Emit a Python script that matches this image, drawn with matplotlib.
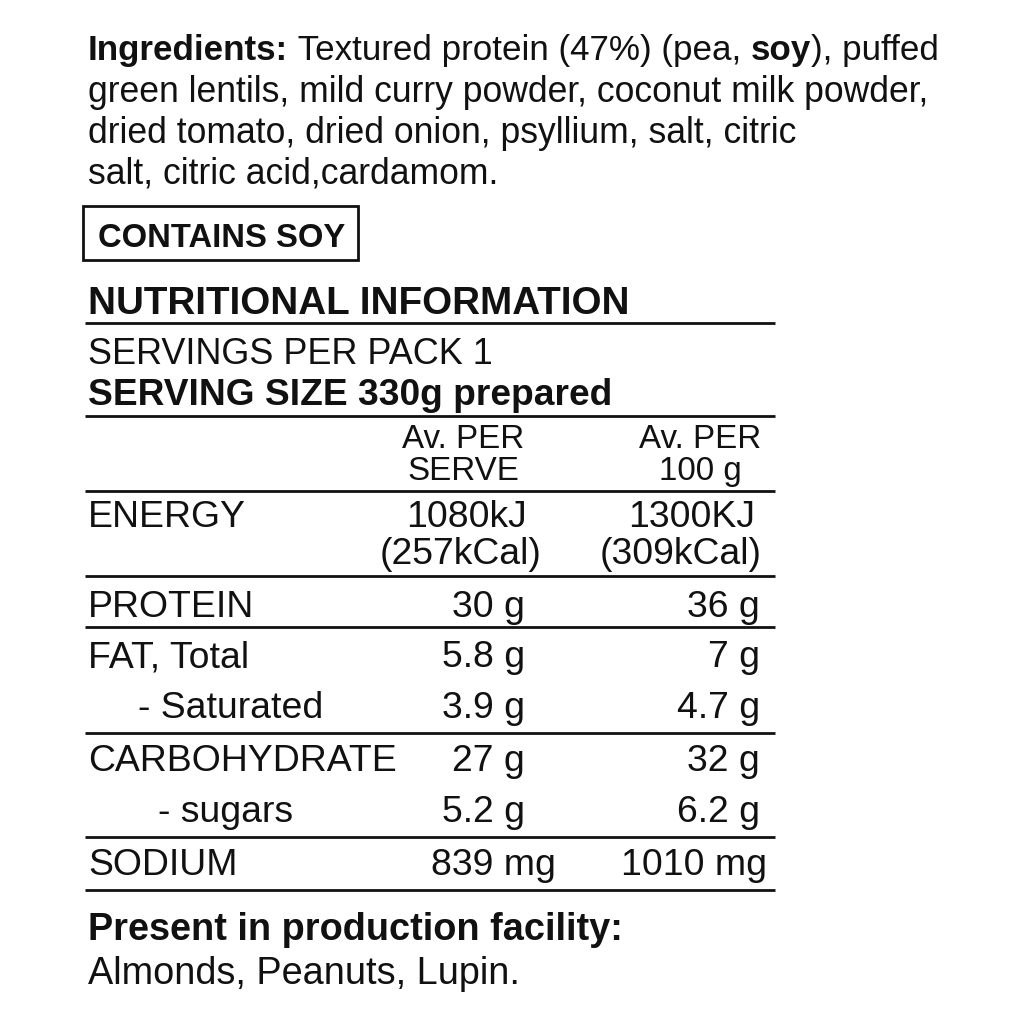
import matplotlib
matplotlib.use('Agg')
import matplotlib.pyplot as plt
from matplotlib import font_manager as fm
from matplotlib.patches import Rectangle

# ---------------- data ----------------
ingredient_lines = [
    [("Ingredients:", "bold"), (" Textured protein (47%) (pea, ", "normal"), ("soy", "bold"), ("), puffed", "normal")],
    [("green lentils, mild curry powder, coconut milk powder,", "normal")],
    [("dried tomato, dried onion, psyllium, salt, citric", "normal")],
    [("salt, citric acid,cardamom.", "normal")],
]
allergen_box = "CONTAINS SOY"
title = "NUTRITIONAL INFORMATION"
servings = "SERVINGS PER PACK 1"
serving_size = "SERVING SIZE 330g prepared"
col_headers = [["Av. PER", "SERVE"], ["Av. PER", "100 g"]]
energy_label = "ENERGY"
energy_serve = ["1080kJ", "(257kCal)"]
energy_100g = ["1300KJ", "(309kCal)"]
nutrients = ["PROTEIN", "FAT, Total", "- Saturated", "CARBOHYDRATE", "- sugars", "SODIUM"]
per_serve = ["30 g", "5.8 g", "3.9 g", "27 g", "5.2 g", "839 mg"]
per_100g = ["36 g", "7 g", "4.7 g", "32 g", "6.2 g", "1010 mg"]
facility_title = "Present in production facility:"
facility_items = "Almonds, Peanuts, Lupin."

# ---------------- layout ----------------
names = {f.name for f in fm.fontManager.ttflist}


def first_font(cands):
    for c in cands:
        if c in names:
            return c
    return "DejaVu Sans"


REG = first_font(["Liberation Sans", "Arimo", "DejaVu Sans"])
INK = "#111111"

fig = plt.figure(figsize=(10.24, 10.24), dpi=100, facecolor="white")
ax = fig.add_axes([0, 0, 1, 1])
ax.set_xlim(0, 1024)
ax.set_ylim(1024, 0)
ax.axis("off")
renderer = fig.canvas.get_renderer()


def width_of(s, size, weight, family=REG):
    t = ax.text(0, 0, s, fontsize=size, fontweight=weight, family=family)
    w = t.get_window_extent(renderer).width
    t.remove()
    return w


def fit_size(s, target, weight="normal"):
    return 20.0 * target / width_of(s, 20.0, weight)


def put(s, x, y, size, weight="normal", ha="left"):
    return ax.text(x, y, s, fontsize=size, fontweight=weight, family=REG,
                   ha=ha, va="baseline", color=INK)


def pieces_width(pieces, size):
    return sum(width_of(s.replace(" ", "\u00a0"), size, w) for s, w in pieces)


# ingredients paragraph
ing_size = fit_size(ingredient_lines[1][0][0], 840)
ing_base = [60, 102, 143, 184]
for li, (pieces, yb) in enumerate(zip(ingredient_lines, ing_base)):
    size = ing_size
    if li == 0:
        size = ing_size * 850.0 / pieces_width(pieces, ing_size)
    x = 88
    for s, w in pieces:
        t = put(s.replace(" ", "\u00a0"), x, yb, size, w)
        x = t.get_window_extent(renderer).x1

# allergen box
ax.add_patch(Rectangle((83, 206), 275, 54, fill=False, lw=2.0, ec=INK))
put(allergen_box, 98, 247, fit_size(allergen_box, 247, "bold"), "bold")

# headings
put(title, 88, 314, fit_size(title, 540, "bold"), "bold")
put(servings, 88, 364, fit_size(servings, 404))
put(serving_size, 88, 405, fit_size(serving_size, 524, "bold"), "bold")

# rules
for yl in [323, 416, 491, 576, 627, 733, 837, 890]:
    ax.plot([85, 775], [yl, yl], color=INK, lw=2.0, solid_capstyle="butt")

tsize = fit_size("CARBOHYDRATE", 308)
hsize = fit_size("Av. PER", 122)

# column headers
for hdr, cx in zip(col_headers, [463, 700]):
    put(hdr[0], cx, 448, hsize, ha="center")
    put(hdr[1], cx, 480, hsize, ha="center")

# energy
put(energy_label, 88, 527, tsize)
put(energy_serve[0], 527, 527, tsize, ha="right")
put(energy_serve[1], 541, 564, tsize, ha="right")
put(energy_100g[0], 755, 527, tsize, ha="right")
put(energy_100g[1], 762, 564, tsize, ha="right")

# nutrient rows
row_base = [617, 667, 718, 771, 822, 875]
label_x = [88, 88, 138, 88, 158, 88]
right1 = [525, 525, 525, 525, 525, 556]
right2 = [760, 760, 760, 760, 760, 767]
for i, lab in enumerate(nutrients):
    put(lab.replace(" ", "\u00a0") if lab.startswith("-") else lab, label_x[i], row_base[i], tsize)
    put(per_serve[i], right1[i], row_base[i], tsize, ha="right")
    put(per_100g[i], right2[i], row_base[i], tsize, ha="right")

# facility
put(facility_title, 88, 940, fit_size(facility_title, 534, "bold"), "bold")
put(facility_items, 88, 984, fit_size(facility_items, 430))

fig.savefig("out.png", dpi=100, facecolor="white")
